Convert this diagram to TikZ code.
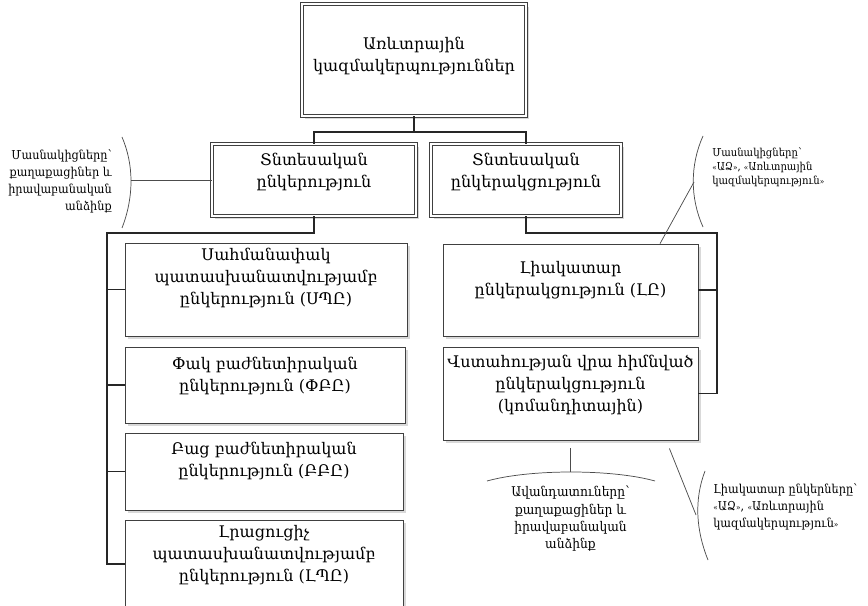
\documentclass[tikz,border=0pt]{standalone}
\usepackage{fontspec}
\setmainfont{DejaVu Serif}
\newfontfamily\cmtfont[FakeStretch=0.92]{DejaVu Serif}
\usetikzlibrary{shadows,calc}
\newcommand\armlq{{\fontsize{6}{6}\selectfont «}}
\newcommand\armrq{{\fontsize{6}{6}\selectfont »}}
\begin{document}
\begin{tikzpicture}[x=0.75pt,y=-0.75pt,
  box/.style={draw=black!75, fill=white, line width=0.6pt, inner sep=0pt,
    drop shadow={shadow xshift=2.6pt, shadow yshift=-2.6pt, fill=black!15, opacity=1}},
  dbox/.style={box, double=white, double distance=2.2pt},
  btxt/.style={align=center, font=\fontsize{12}{16.5}\selectfont, inner sep=0pt},
  ctxt/.style={font=\cmtfont\fontsize{9.2}{12.8}\selectfont, inner sep=0pt},
  bctxt/.style={font=\cmtfont\fontsize{10}{13}\selectfont, inner sep=0pt},
  stxt/.style={font=\cmtfont\fontsize{8.2}{10.5}\selectfont, inner sep=0pt},
  conn/.style={draw=black!85, line width=1.4pt},
  cmt/.style={draw=black!70, line width=0.55pt}]
\useasboundingbox (0,0) rectangle (868,606);
\clip (0,0) rectangle (868,606);

% named anchors for the trunks
\coordinate (hub) at (414,132);
\coordinate (trunkL) at (107,233);
\coordinate (trunkR) at (717,233);

% boxes (drawn as nodes, sized in px)
\node[dbox, minimum width=168pt, minimum height=84pt] (top) at (414,60) {};
\node[dbox, minimum width=153pt, minimum height=54pt] (b1) at (314,180) {};
\node[dbox, minimum width=142.5pt, minimum height=54pt] (b2) at (526,180) {};
\node[box, minimum width=211.5pt, minimum height=69.75pt] (A) at (266,289.5) {};
\node[box, minimum width=210pt, minimum height=57pt] (B) at (265,385) {};
\node[box, minimum width=208.5pt, minimum height=57.75pt] (C) at (264,471.5) {};
\node[box, minimum width=208.5pt, minimum height=66pt] (D) at (264,564) {};
\node[box, minimum width=191.25pt, minimum height=69pt] (E) at (570.5,290) {};
\node[box, minimum width=191.25pt, minimum height=69.75pt] (F) at (570.5,393.5) {};

% connectors
\draw[conn] (top.south) -- (hub);
\draw[conn] (b1.north) |- (hub) -| (b2.north);
\draw[conn] (b1.south) -- (b1.south |- trunkL) -- (trunkL) -- (trunkL |- D.west) -- (D.west);
\draw[conn] (trunkL |- A.west) -- (A.west);
\draw[conn] (trunkL |- B.west) -- (B.west);
\draw[conn] (trunkL |- C.west) -- (C.west);
\draw[conn] (b2.south) -- (b2.south |- trunkR) -- (trunkR) -- (trunkR |- F.east) -- (F.east);
\draw[conn] (trunkR |- E.east) -- (E.east);

% box texts
\node[btxt] (topT) at (414,56) {Առևտրային\\կազմակերպություններ};
\node[btxt] (b1T) at (314,172) {Տնտեսական\\ընկերություն};
\node[btxt] (b2T) at (526,172) {Տնտեսական\\ընկերակցություն};
\node[btxt] (AT) at (266,277.5) {Սահմանափակ\\պատասխանատվությամբ\\ընկերություն (ՍՊԸ)};
\node[btxt] (BT) at (265,376) {Փակ բաժնետիրական\\ընկերություն (ՓԲԸ)};
\node[btxt] (CT) at (264,461) {Բաց բաժնետիրական\\ընկերություն (ԲԲԸ)};
\node[btxt] (DT) at (264,555.5) {Լրացուցիչ\\պատասխանատվությամբ\\ընկերություն (ԼՊԸ)};
\node[btxt] (ET) at (570.5,280) {Լիակատար\\ընկերակցություն (ԼԸ)};
\node[btxt] (FT) at (570.5,385) {Վստահության վրա հիմնված\\ընկերակցություն\\(կոմանդիտային)};

% comment brackets
\draw[cmt] (122,137) .. controls (134,165) and (134,197) .. (122,228);
\coordinate (lc) at (131,180);
\draw[cmt] (lc) -- (b1.west);
\node[ctxt, align=right, anchor=east] (lcT) at (112,181) {Մասնակիցները՝\\քաղաքացիներ և\\իրավաբանական\\անձինք};

\draw[cmt] (703,136) .. controls (690,165) and (690,198) .. (703,227);
\coordinate (rc) at (694,182);
\draw[cmt] (rc) -- ($(E.north west)!0.85!(E.north east)$);
\node[stxt, align=left, anchor=west] (rcT) at (712,167) {Մասնակիցները՝\\\armlq ԱՁ\armrq, \armlq Առևտրային\\կազմակերպություն\armrq};

\draw[cmt] (487,481) .. controls (530,469) and (612,469) .. (655,481);
\coordinate (bc) at (570.5,472);
\draw[cmt, shorten <=6pt] (F.south) -- (bc);
\node[bctxt, align=center] (bcT) at (570.5,519) {Ավանդատուները՝\\քաղաքացիներ և\\իրավաբանական\\անձինք};

\draw[cmt] (705,471) .. controls (694,500) and (696,530) .. (708,560);
\coordinate (brc) at (696,515);
\draw[cmt, shorten <=6.5pt] ($(F.south west)!0.874!(F.south east)$) -- (brc);
\node[ctxt, align=left, anchor=west] (brcT) at (713,507) {Լիակատար ընկերները՝\\\armlq ԱՁ\armrq, \armlq Առևտրային\\կազմակերպություն\armrq};
\end{tikzpicture}
\end{document}
